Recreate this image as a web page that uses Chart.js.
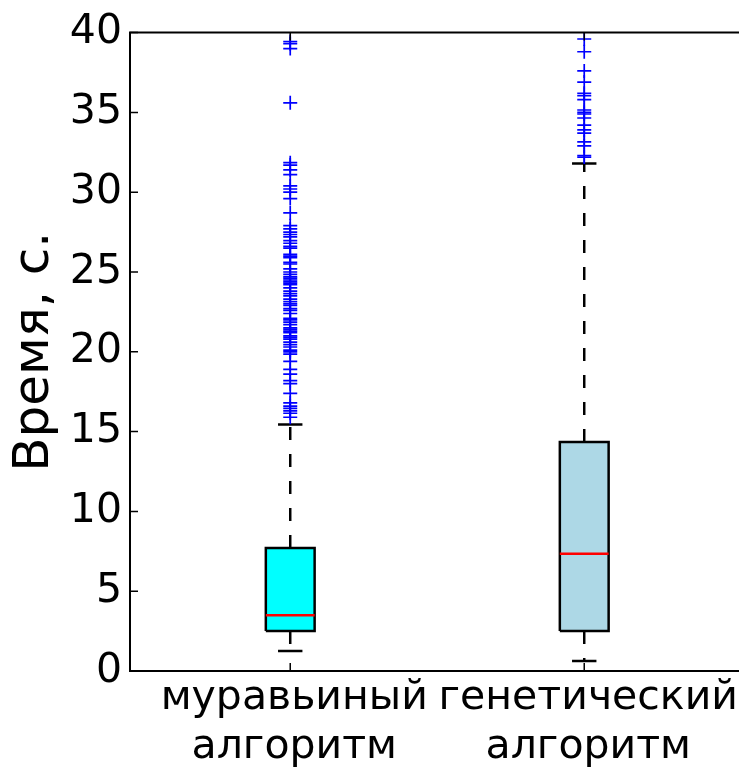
<!DOCTYPE html>
<html>
<head>
<meta charset="utf-8">
<script src="https://cdn.jsdelivr.net/npm/chart.js@4/dist/chart.umd.min.js"></script>
<style>
html, body { margin: 0; padding: 0; background: #fff; overflow: hidden; }
</style>
</head>
<body>
<canvas id="chart" width="739" height="776"></canvas>
<script>
var categories = [["муравьиный", "алгоритм"], ["генетический", "алгоритм"]];
var positions = [1, 2];
var q1 = [2.5, 2.5];
var medians = [3.5, 7.35];
var q3 = [7.7, 14.35];
var whiskerLow = [1.25, 0.62];
var whiskerHigh = [15.45, 31.8];
var boxColors = ["#00ffff", "#add8e6"];
var yTicks = [0, 5, 10, 15, 20, 25, 30, 35, 40];

var antFliers = [39.44, 39.3, 39.0, 35.6, 31.85, 31.7, 31.4, 31.1, 30.4, 30.2, 30.0, 29.6,
  28.7, 27.9, 27.7, 27.5, 27.35, 27.2, 26.96, 26.8, 26.6, 26.5, 26.1, 26.0, 25.9, 25.6,
  25.5, 25.2, 25.0, 24.85, 24.7, 24.6, 24.5, 24.4, 24.3, 24.2, 24.0, 23.8, 23.65, 23.5,
  23.3, 23.15, 23.0, 22.9, 22.7, 22.6, 22.4, 22.1, 22.0, 21.86, 21.7, 21.5, 21.4, 21.3,
  21.2, 21.0, 20.9, 20.8, 20.6, 20.45, 20.3, 20.1, 20.0, 19.85, 19.4, 18.9, 18.6, 18.2,
  18.0, 17.4, 16.8, 16.6, 16.45, 16.3, 16.15, 15.9];
var geneticFliers = [39.6, 38.8, 37.6, 36.9, 36.2, 36.05, 35.8, 35.15, 35.0, 34.9, 34.65,
  34.2, 33.9, 33.7, 33.15, 32.9, 32.3, 32.2];
var fliers = [antFliers, geneticFliers];

var boxWidth = 0.166;
var capWidth = boxWidth / 2;

var datasets = [];
positions.forEach(function (p, i) {
  var l = p - boxWidth / 2, r = p + boxWidth / 2;
  // box
  datasets.push({
    data: [{x: l, y: q1[i]}, {x: r, y: q1[i]}, {x: r, y: q3[i]}, {x: l, y: q3[i]}, {x: l, y: q1[i]}],
    borderColor: "#000", borderWidth: 2.5, backgroundColor: boxColors[i],
    fill: "shape", pointRadius: 0, tension: 0, order: 2
  });
  // median
  datasets.push({
    data: [{x: l, y: medians[i]}, {x: r, y: medians[i]}],
    borderColor: "#ff0000", borderWidth: 2.5, pointRadius: 0, fill: false, order: 0
  });
  // whiskers
  datasets.push({
    data: [{x: p, y: q3[i]}, {x: p, y: whiskerHigh[i]}],
    borderColor: "#000", borderWidth: 2.5, borderDash: [13, 14], pointRadius: 0, fill: false, order: 3
  });
  datasets.push({
    data: [{x: p, y: q1[i]}, {x: p, y: whiskerLow[i]}],
    borderColor: "#000", borderWidth: 2.5, borderDash: [13, 14], pointRadius: 0, fill: false, order: 3
  });
  // caps
  [whiskerHigh[i], whiskerLow[i]].forEach(function (w) {
    datasets.push({
      data: [{x: p - capWidth / 2, y: w}, {x: p + capWidth / 2, y: w}],
      borderColor: "#000", borderWidth: 2.5, pointRadius: 0, fill: false, order: 3
    });
  });
  // fliers
  datasets.push({
    data: fliers[i].map(function (v) { return {x: p, y: v}; }),
    showLine: false, pointStyle: "cross", pointRadius: 7, pointBorderWidth: 1.7,
    pointBorderColor: "#0000ff", borderColor: "#0000ff", order: 1, clip: false
  });
});

var spines = {
  id: "spines",
  afterDatasetsDraw: function (chart) {
    var ctx = chart.ctx, a = chart.chartArea;
    var xs = chart.scales.x, ys = chart.scales.y;
    ctx.save();
    ctx.strokeStyle = "#000";
    ctx.lineWidth = 2;
    ctx.beginPath();
    ctx.moveTo(chart.width, a.top); ctx.lineTo(a.left, a.top);
    ctx.lineTo(a.left, a.bottom); ctx.lineTo(chart.width, a.bottom);
    ctx.stroke();
    ctx.lineWidth = 1.5;
    ctx.beginPath();
    yTicks.forEach(function (v) {
      var y = ys.getPixelForValue(v);
      ctx.moveTo(a.left, y); ctx.lineTo(a.left + 8, y);
    });
    positions.forEach(function (p) {
      var x = xs.getPixelForValue(p);
      ctx.moveTo(x, a.bottom); ctx.lineTo(x, a.bottom - 8);
      ctx.moveTo(x, a.top); ctx.lineTo(x, a.top + 8);
    });
    ctx.stroke();
    ctx.restore();
  }
};

var font = {family: "DejaVu Sans", size: 41};

new Chart(document.getElementById("chart"), {
  type: "line",
  data: {datasets: datasets},
  options: {
    responsive: false,
    animation: false,
    devicePixelRatio: 1,
    layout: {padding: {top: 30, right: 0, left: 0, bottom: 0}},
    plugins: {legend: {display: false}, tooltip: {enabled: false}},
    scales: {
      x: {
        type: "linear", min: 0.455, max: 2.485,
        afterBuildTicks: function (s) { s.ticks = positions.map(function (v) { return {value: v}; }); },
        afterFit: function (s) { s.height = 105; },
        grid: {display: false, tickLength: 0}, border: {display: false},
        ticks: {
          font: font, color: "#000", padding: 3, maxRotation: 0, autoSkip: false, labelOffset: 4,
          callback: function (v) { return categories[positions.indexOf(v)]; }
        }
      },
      y: {
        min: 0, max: 40,
        afterBuildTicks: function (s) { s.ticks = yTicks.map(function (v) { return {value: v}; }); },
        afterFit: function (s) { s.width = 130; },
        grid: {display: false, tickLength: 0}, border: {display: false},
        ticks: {font: font, color: "#000", padding: 8},
        title: {display: true, text: "Время, с.", font: {family: "DejaVu Sans", size: 50}, color: "#000", padding: {top: 5, bottom: 0}}
      }
    }
  },
  plugins: [spines]
});
</script>
</body>
</html>
